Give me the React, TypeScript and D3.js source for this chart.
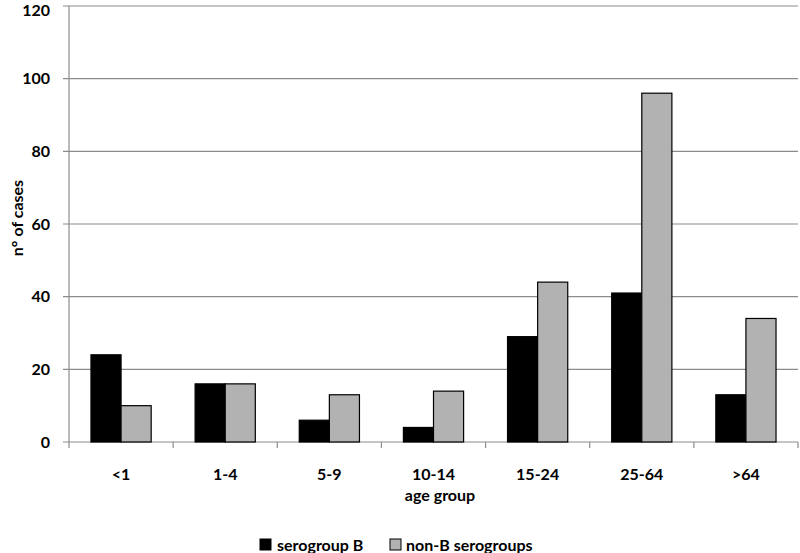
import React from "react";
import * as d3 from "d3";

const categories = ["<1", "1-4", "5-9", "10-14", "15-24", "25-64", ">64"];
const serogroupB = [24, 16, 6, 4, 29, 41, 13];
const nonB = [10, 16, 13, 14, 44, 96, 34];
const yTicks = [0, 20, 40, 60, 80, 100, 120];
const seriesNames = ["serogroup B", "non-B serogroups"];
const seriesColors = ["#000000", "#b2b2b2"];

const W = 800;
const H = 553;
const left = 69;
const right = 798;
const top = 6;
const bottom = 442;
const font = "Lato, 'Open Sans', sans-serif";

export default function App() {
  const x = d3.scaleBand<string>().domain(categories).range([left, right]).paddingInner(0).paddingOuter(0);
  const inner = d3.scaleBand<string>().domain(seriesNames).range([0, x.bandwidth()]).paddingInner(0).paddingOuter(0.73);
  const y = d3.scaleLinear().domain([0, 120]).range([bottom, top]);
  const series = [serogroupB, nonB];

  return (
    <svg width={W} height={H} style={{ position: "absolute", left: 0, top: 0, background: "#fff" }}>
      {yTicks.map((t) => (
        <g key={t}>
          <line x1={left - 6} x2={right} y1={y(t)} y2={y(t)} stroke="#8c8c8c" strokeWidth={1.2} />
          <text x={left - 19} y={Math.max(y(t), 10)} dy="0.35em" textAnchor="end" fontFamily={font} fontWeight="bold" fontSize={16} fill="#000">
            {t}
          </text>
        </g>
      ))}
      <line x1={left} x2={left} y1={top} y2={bottom} stroke="#8c8c8c" strokeWidth={1.2} />
      {categories.map((c, i) => (
        <line key={"tk" + i} x1={x(c)!} x2={x(c)!} y1={bottom} y2={bottom + 6} stroke="#8c8c8c" strokeWidth={1.2} />
      ))}
      <line x1={right} x2={right} y1={bottom} y2={bottom + 6} stroke="#8c8c8c" strokeWidth={1.2} />
      {series.map((vals, si) =>
        categories.map((c, i) => (
          <rect
            key={si + "-" + i}
            x={x(c)! + inner(seriesNames[si])!}
            y={y(vals[i])}
            width={inner.bandwidth()}
            height={bottom - y(vals[i])}
            fill={seriesColors[si]}
            stroke="#000"
            strokeWidth={1.2}
          />
        ))
      )}
      {categories.map((c) => (
        <text key={"xl" + c} x={x(c)! + x.bandwidth() / 2} y={474} dy="0.35em" textAnchor="middle" fontFamily={font} fontWeight="bold" fontSize={16} fill="#000">
          {c}
        </text>
      ))}
      <text x={440} y={495} dy="0.35em" textAnchor="middle" fontFamily={font} fontWeight="bold" fontSize={16} fill="#000">
        age group
      </text>
      <text transform={`translate(17,218) rotate(-90)`} dy="0.35em" textAnchor="middle" fontFamily={font} fontWeight="bold" fontSize={16} fill="#000">
        n° of cases
      </text>
      <g>
        <rect x={260} y={539} width={11} height={11} fill={seriesColors[0]} stroke="#000" strokeWidth={1} />
        <text x={277} y={545} dy="0.35em" fontFamily={font} fontWeight="bold" fontSize={16} fill="#000">
          {seriesNames[0]}
        </text>
        <rect x={390} y={539} width={11} height={11} fill={seriesColors[1]} stroke="#000" strokeWidth={1} />
        <text x={406} y={545} dy="0.35em" fontFamily={font} fontWeight="bold" fontSize={16} fill="#000">
          {seriesNames[1]}
        </text>
      </g>
    </svg>
  );
}
